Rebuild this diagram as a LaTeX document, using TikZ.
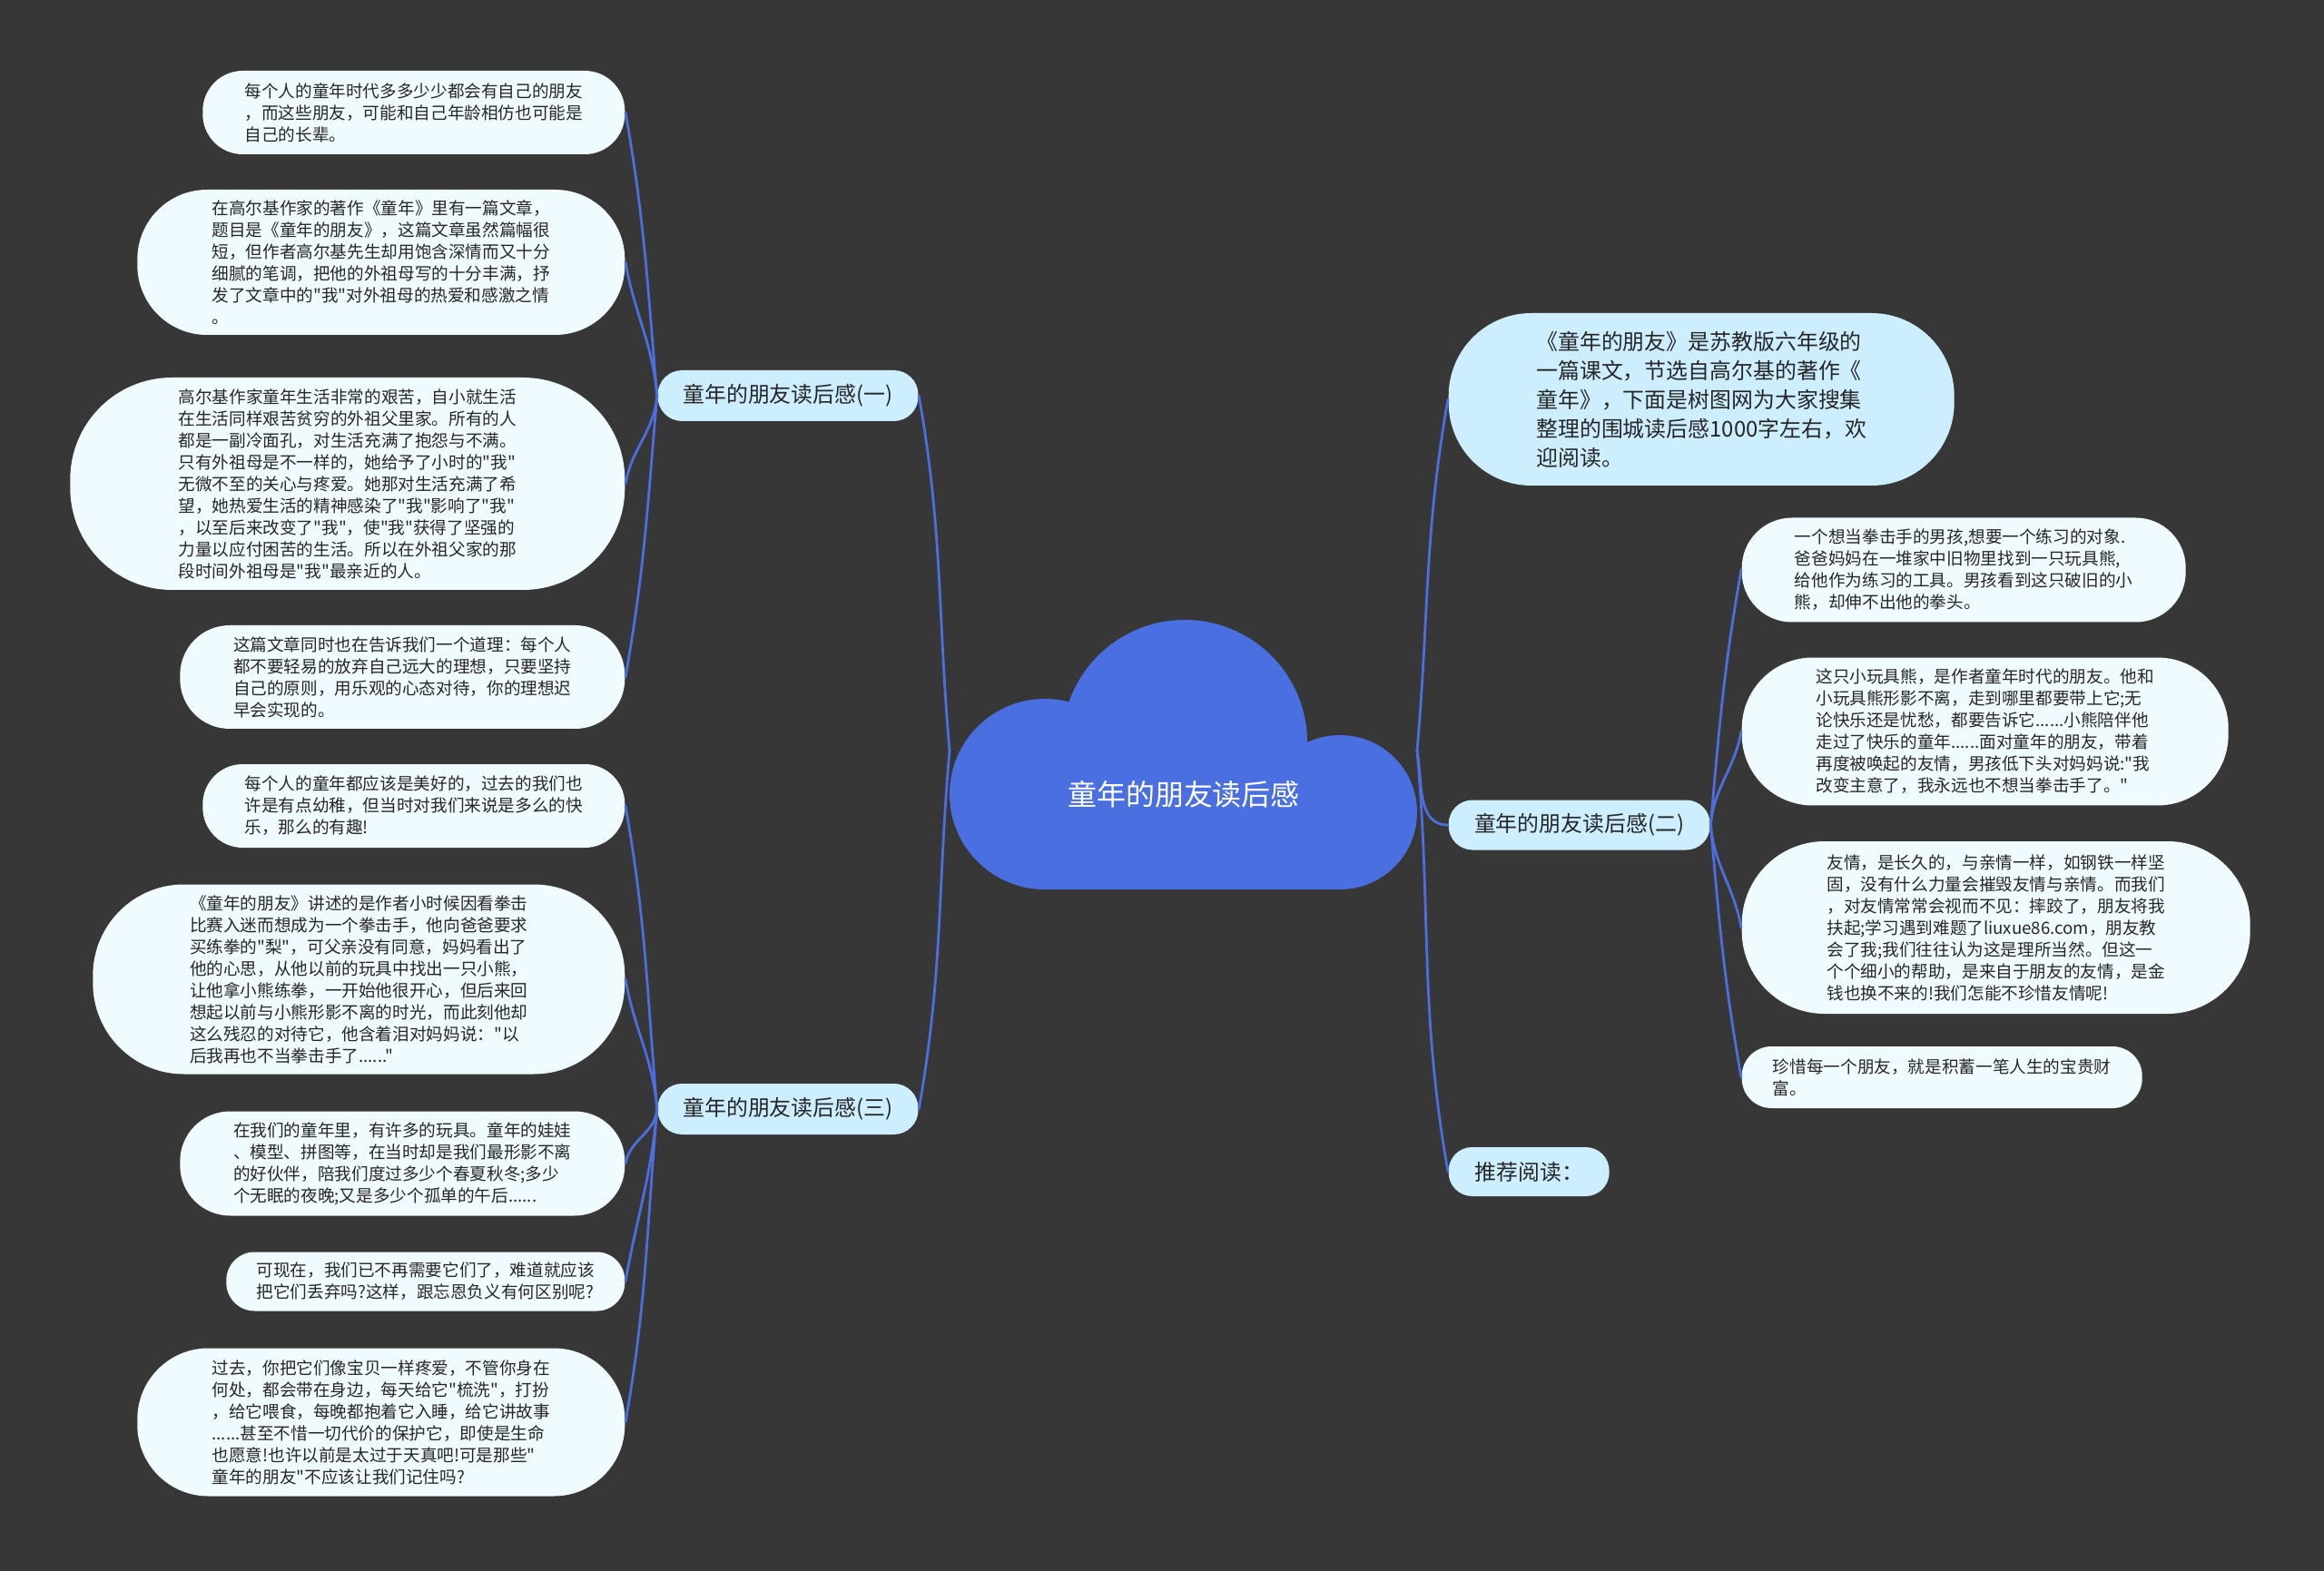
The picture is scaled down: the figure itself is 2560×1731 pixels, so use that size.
\documentclass[tikz,border=0pt]{standalone}
\usepackage{fontspec}
\setmainfont{Noto Sans CJK SC}[Ligatures=TeXOff]

\definecolor{bgcol}{RGB}{56,55,56}
\definecolor{cloudcol}{RGB}{74,111,224}
\definecolor{linkcol}{RGB}{76,110,222}
\definecolor{leafcol}{RGB}{240,251,255}
\definecolor{branchcol}{RGB}{204,238,255}

\newcommand\leaffont{\fontsize{5.3pt}{6.83pt}\selectfont}
\newcommand\branchfont{\fontsize{6.8pt}{8.5pt}\selectfont}
\newcommand\introfont{\fontsize{6.8pt}{9.1pt}\selectfont}
\newcommand\rootfont{\fontsize{9.1pt}{11pt}\selectfont}

\tikzset{
  leaf/.style 2 args={fill=leafcol, text=black!85, align=left, font=\leaffont,
    inner sep=0pt, minimum width=#1, minimum height=#2, rounded corners=0.48*#2},
  branch/.style 2 args={fill=branchcol, text=black!85, font=\branchfont,
    inner sep=0pt, minimum width=#1, minimum height=#2, rounded corners=0.48*#2},
  intro/.style 2 args={fill=branchcol, text=black!85, align=left, font=\introfont,
    inner sep=0pt, minimum width=#1, minimum height=#2, rounded corners=0.48*#2},
  link/.style={draw=linkcol, line width=0.28mm},
}

\begin{document}
\begin{tikzpicture}[x=0.1mm, y=0.1mm, line join=round, line cap=round]
	% --- Background ---
	\fill[bgcol] (0,0) rectangle (2560,-1731);
	
	% --- Cloud (root) ---
	\fill[cloudcol] (1305,-818) circle (13.5mm);
	\fill[cloudcol] (1151,-875) circle (10.5mm);
	\fill[cloudcol] (1476,-895) circle (8.5mm);
	\fill[cloudcol] (1151,-818) rectangle (1476,-980);
	\node[text=white, font=\rootfont] (root) at (1304,-875) {童年的朋友读后感};
	\coordinate (rootL) at (1046,-827);
	\coordinate (rootR) at (1561,-827);
	
	% --- Branches ---
	\node[branch={28.7mm}{5.6mm}] (b1) at (868,-436) {童年的朋友读后感(一)};
	\node[branch={28.7mm}{5.6mm}] (b3) at (868,-1222) {童年的朋友读后感(三)};
	\node[branch={28.8mm}{5.5mm}, anchor=west] (b2) at (1595,-909) {童年的朋友读后感(二)};
	\node[branch={17.7mm}{5.4mm}, anchor=west] (b4) at (1595,-1291) {推荐阅读：};
	\node[intro={55.7mm}{19mm}, anchor=west] (r0) at (1595,-440)
		{《童年的朋友》是苏教版六年级的\\一篇课文，节选自高尔基的著作《\\童年》，下面是树图网为大家搜集\\整理的围城读后感1000字左右，欢\\迎阅读。};
	
	% --- Left leaves, branch (一) ---
	\node[leaf={46.5mm}{9.2mm}, anchor=east] (l1) at (689,-124)
		{每个人的童年时代多多少少都会有自己的朋友\\，而这些朋友，可能和自己年龄相仿也可能是\\自己的长辈。};
	\node[leaf={53.7mm}{16mm}, anchor=east] (l2) at (689,-289)
		{在高尔基作家的著作《童年》里有一篇文章，\\题目是《童年的朋友》，这篇文章虽然篇幅很\\短，但作者高尔基先生却用饱含深情而又十分\\细腻的笔调，把他的外祖母写的十分丰满，抒\\发了文章中的"我"对外祖母的热爱和感激之情\\。};
	\node[leaf={61.1mm}{23.4mm}, anchor=east] (l3) at (689,-533)
		{高尔基作家童年生活非常的艰苦，自小就生活\\在生活同样艰苦贫穷的外祖父里家。所有的人\\都是一副冷面孔，对生活充满了抱怨与不满。\\只有外祖母是不一样的，她给予了小时的"我"\\无微不至的关心与疼爱。她那对生活充满了希\\望，她热爱生活的精神感染了"我"影响了"我"\\，以至后来改变了"我"，使"我"获得了坚强的\\力量以应付困苦的生活。所以在外祖父家的那\\段时间外祖母是"我"最亲近的人。};
	\node[leaf={49mm}{11.4mm}, anchor=east] (l4) at (689,-746)
		{这篇文章同时也在告诉我们一个道理：每个人\\都不要轻易的放弃自己远大的理想，只要坚持\\自己的原则，用乐观的心态对待，你的理想迟\\早会实现的。};
	
	% --- Left leaves, branch (三) ---
	\node[leaf={46.5mm}{9.2mm}, anchor=east] (l5) at (689,-888)
		{每个人的童年都应该是美好的，过去的我们也\\许是有点幼稚，但当时对我们来说是多么的快\\乐，那么的有趣!};
	\node[leaf={58.6mm}{20.9mm}, anchor=east] (l6) at (689,-1079)
		{《童年的朋友》讲述的是作者小时候因看拳击\\比赛入迷而想成为一个拳击手，他向爸爸要求\\买练拳的"梨"，可父亲没有同意，妈妈看出了\\他的心思，从他以前的玩具中找出一只小熊，\\让他拿小熊练拳，一开始他很开心，但后来回\\想起以前与小熊形影不离的时光，而此刻他却\\这么残忍的对待它，他含着泪对妈妈说："以\\后我再也不当拳击手了......"};
	\node[leaf={49mm}{11.5mm}, anchor=east] (l7) at (689,-1282)
		{在我们的童年里，有许多的玩具。童年的娃娃\\、模型、拼图等，在当时却是我们最形影不离\\的好伙伴，陪我们度过多少个春夏秋冬;多少\\个无眠的夜晚;又是多少个孤单的午后......};
	\node[leaf={43.9mm}{6.5mm}, anchor=east] (l8) at (689,-1412)
		{可现在，我们已不再需要它们了，难道就应该\\把它们丢弃吗?这样，跟忘恩负义有何区别呢?};
	\node[leaf={53.7mm}{16.3mm}, anchor=east] (l9) at (689,-1567)
		{过去，你把它们像宝贝一样疼爱，不管你身在\\何处，都会带在身边，每天给它"梳洗"，打扮\\，给它喂食，每晚都抱着它入睡，给它讲故事\\......甚至不惜一切代价的保护它，即使是生命\\也愿意!也许以前是太过于天真吧!可是那些"\\童年的朋友"不应该让我们记住吗?};
	
	% --- Right leaves, branch (二) ---
	\node[leaf={48.9mm}{11.5mm}, anchor=west] (r1) at (1918,-628)
		{一个想当拳击手的男孩,想要一个练习的对象.\\爸爸妈妈在一堆家中旧物里找到一只玩具熊,\\给他作为练习的工具。男孩看到这只破旧的小\\熊，却伸不出他的拳头。};
	\node[leaf={53.6mm}{16.3mm}, anchor=west] (r2) at (1918,-806)
		{这只小玩具熊，是作者童年时代的朋友。他和\\小玩具熊形影不离，走到哪里都要带上它;无\\论快乐还是忧愁，都要告诉它......小熊陪伴他\\走过了快乐的童年......面对童年的朋友，带着\\再度被唤起的友情，男孩低下头对妈妈说:"我\\改变主意了，我永远也不想当拳击手了。"};
	\node[leaf={56mm}{19mm}, anchor=west] (r3) at (1918,-1022)
		{友情，是长久的，与亲情一样，如钢铁一样坚\\固，没有什么力量会摧毁友情与亲情。而我们\\，对友情常常会视而不见：摔跤了，朋友将我\\扶起;学习遇到难题了liuxue86.com，朋友教\\会了我;我们往往认为这是理所当然。但这一\\个个细小的帮助，是来自于朋友的友情，是金\\钱也换不来的!我们怎能不珍惜友情呢!};
	\node[leaf={44.1mm}{6.8mm}, anchor=west] (r4) at (1918,-1187)
		{珍惜每一个朋友，就是积蓄一笔人生的宝贵财\\富。};
	
	% --- Links from the root ---
	\draw[link] (rootL) to[out=95,in=-80] (b1.east);
	\draw[link] (rootL) to[out=-95,in=80] (b3.east);
	\draw[link] (rootR) to[out=85,in=-100] (r0.west);
	\draw[link] (rootR) to[out=-80,in=180] (b2.west);
	\draw[link] (rootR) to[out=-85,in=100] (b4.west);
	
	% --- Links to the leaves ---
	\foreach \n/\o/\i in {l1/95/-80, l2/95/-80, l3/-95/80, l4/-95/80}
		\draw[link] (b1.west) to[out=\o,in=\i] (\n.east);
	\foreach \n/\o/\i in {l5/95/-80, l6/95/-80, l7/-95/80, l8/-95/80, l9/-95/80}
		\draw[link] (b3.west) to[out=\o,in=\i] (\n.east);
	\foreach \n/\o/\i in {r1/85/-100, r2/85/-100, r3/-85/100, r4/-85/100}
		\draw[link] (b2.east) to[out=\o,in=\i] (\n.west);
\end{tikzpicture}
\end{document}
